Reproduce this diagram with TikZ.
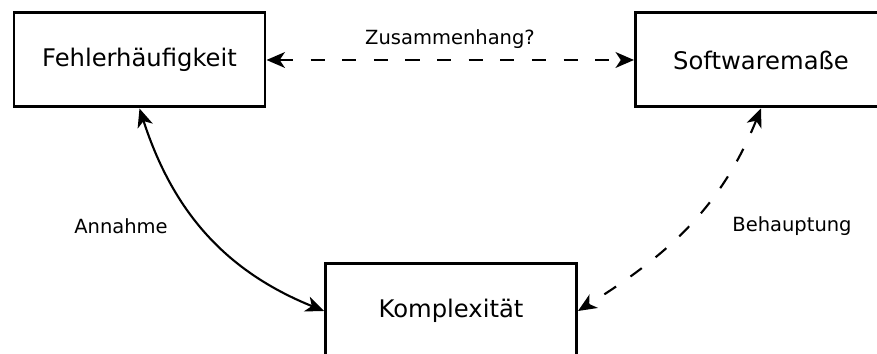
\documentclass[tikz,border=0pt]{standalone}
\usepackage{fontspec}
\setmainfont{DejaVu Sans}
\usetikzlibrary{arrows.meta}

\tikzset{
    kasten/.style={draw, line width=1.7pt, minimum width=5.02cm, minimum height=1.88cm, font=\fontsize{13.8}{16}\selectfont},
    beschriftung/.style={font=\fontsize{11.1}{13}\selectfont},
    pfeil/.style={{Stealth[length=10.5pt,width=9pt,inset=3pt]}-{Stealth[length=10.5pt,width=9pt,inset=3pt]}, line width=1.2pt},
    gestrichelt/.style={dash pattern=on 8pt off 10pt}
}

\begin{document}
\begin{tikzpicture}
    \useasboundingbox (0,0) rectangle (17.54,7.08);

    % Kaesten
    \node[kasten] (fehler) at (2.79,5.88) {Fehlerhäufigkeit};
    \node[kasten] (software) at (15.22,5.88) {Softwaremaße};
    \node[kasten] (komplex) at (9.02,0.86) {Komplexität};

    % Beschriftungen
    \node[beschriftung] (zusammenhang) at (9.0,6.3) {Zusammenhang?};
    \node[beschriftung] (annahme) at (2.42,2.56) {Annahme};
    \node[beschriftung] (behauptung) at (15.84,2.56) {Behauptung};

    % Pfeile
    \draw[pfeil, gestrichelt] (fehler) -- (software);
    \draw[pfeil] (fehler.south) to[out=-72, in=158] (komplex.west);
    \draw[pfeil, gestrichelt] (software.south) to[out=-112, in=32] (komplex.east);
\end{tikzpicture}
\end{document}
